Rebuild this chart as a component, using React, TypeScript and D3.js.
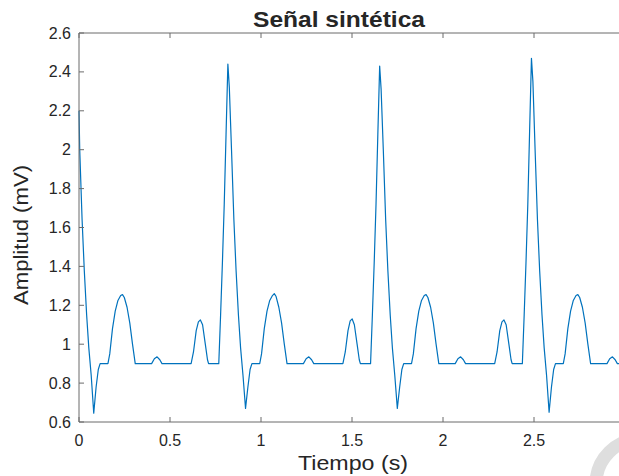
import React from "react";
import * as d3 from "d3";

const time: number[] = [
  0.000, 0.004, 0.017, 0.029, 0.042, 0.054, 0.067, 0.081, 0.094, 0.106, 0.116, 0.159, 0.169, 0.184, 0.199, 0.214, 0.229, 0.239, 0.249, 0.264, 0.279, 0.294, 0.309, 0.399, 0.414, 0.429, 0.444, 0.456, 0.616, 0.629, 0.644, 0.656, 0.667, 0.679, 0.694, 0.706, 0.712,
  0.768, 0.778, 0.788, 0.798, 0.808, 0.818, 0.826, 0.838, 0.851, 0.863, 0.876, 0.888, 0.901, 0.915, 0.928, 0.940, 0.950, 0.993, 1.003, 1.018, 1.033, 1.048, 1.063, 1.073, 1.083, 1.098, 1.113, 1.128, 1.143, 1.233, 1.248, 1.263, 1.278, 1.290, 1.450, 1.463, 1.478, 1.490, 1.501, 1.513, 1.528, 1.540, 1.546,
  1.602, 1.612, 1.622, 1.632, 1.642, 1.652, 1.660, 1.672, 1.685, 1.697, 1.710, 1.722, 1.735, 1.749, 1.762, 1.774, 1.784, 1.827, 1.837, 1.852, 1.867, 1.882, 1.897, 1.907, 1.917, 1.932, 1.947, 1.962, 1.977, 2.067, 2.082, 2.097, 2.112, 2.124, 2.284, 2.297, 2.312, 2.324, 2.335, 2.347, 2.362, 2.374, 2.380,
  2.436, 2.446, 2.456, 2.466, 2.476, 2.486, 2.494, 2.506, 2.519, 2.531, 2.544, 2.556, 2.569, 2.583, 2.596, 2.608, 2.618, 2.661, 2.671, 2.686, 2.701, 2.716, 2.731, 2.741, 2.751, 2.766, 2.781, 2.796, 2.811, 2.901, 2.916, 2.931, 2.946, 2.958, 3.000,
];

const amplitude: number[] = [
  2.20, 2.00, 1.64, 1.38, 1.15, 0.98, 0.84, 0.645, 0.78, 0.87, 0.90, 0.90, 0.95, 1.08, 1.17, 1.225, 1.25, 1.255, 1.24, 1.19, 1.11, 1.00, 0.90, 0.90, 0.925, 0.935, 0.92, 0.90, 0.90, 0.96, 1.07, 1.115, 1.125, 1.10, 1.00, 0.92, 0.90,
  0.90, 1.15, 1.42, 1.72, 2.08, 2.44, 2.32, 2.00, 1.64, 1.38, 1.15, 0.98, 0.84, 0.67, 0.78, 0.87, 0.90, 0.90, 0.95, 1.08, 1.17, 1.225, 1.25, 1.26, 1.245, 1.19, 1.11, 1.00, 0.90, 0.90, 0.925, 0.935, 0.92, 0.90, 0.90, 0.96, 1.07, 1.12, 1.13, 1.10, 1.00, 0.92, 0.90,
  0.90, 1.15, 1.42, 1.72, 2.08, 2.43, 2.31, 2.00, 1.64, 1.38, 1.15, 0.98, 0.84, 0.67, 0.78, 0.87, 0.90, 0.90, 0.95, 1.08, 1.17, 1.225, 1.25, 1.255, 1.24, 1.19, 1.11, 1.00, 0.90, 0.90, 0.925, 0.935, 0.92, 0.90, 0.90, 0.96, 1.07, 1.115, 1.125, 1.10, 1.00, 0.92, 0.90,
  0.90, 1.15, 1.42, 1.72, 2.10, 2.47, 2.35, 2.00, 1.64, 1.38, 1.15, 0.98, 0.84, 0.65, 0.78, 0.87, 0.90, 0.90, 0.95, 1.08, 1.17, 1.225, 1.25, 1.255, 1.24, 1.19, 1.11, 1.00, 0.90, 0.90, 0.925, 0.935, 0.92, 0.90, 0.90,
];

const xTicks: number[] = [0, 0.5, 1, 1.5, 2, 2.5];
const yTicks: number[] = [0.6, 0.8, 1, 1.2, 1.4, 1.6, 1.8, 2, 2.2, 2.4, 2.6];

const titleText = "Señal sintética";
const xLabelText = "Tiempo (s)";
const yLabelText = "Amplitud (mV)";

const W = 619;
const H = 476;
const left = 79;
const top = 33;
const bottom = 422;
const right = 625;

export default function App() {
  const x = d3.scaleLinear().domain([0, 3]).range([left, right]);
  const y = d3.scaleLinear().domain([0.6, 2.6]).range([bottom, top]);
  const pts = time.map((t, i) => [t, amplitude[i]] as [number, number]);
  const line = d3
    .line<[number, number]>()
    .x((d) => x(d[0]))
    .y((d) => y(d[1]));
  const axisColor = "#6b6b6b";
  const textColor = "#262626";
  const font = "'Liberation Sans', Arial, Helvetica, sans-serif";
  const tick = 5;
  return (
    <svg
      width={W}
      height={H}
      style={{ position: "absolute", left: 0, top: 0, background: "#fff" }}
      fontFamily={font}
    >
      <rect x={0} y={0} width={W} height={H} fill="#fff" />
      <circle cx={641} cy={484} r={45} fill="none" stroke="#dedede" strokeWidth={13} />
      <path d={line(pts) || ""} fill="none" stroke="#0072BD" strokeWidth={1.2} strokeLinejoin="round" />
      <line x1={left} x2={right} y1={bottom} y2={bottom} stroke={axisColor} strokeWidth={1} />
      <line x1={left} x2={right} y1={top} y2={top} stroke={axisColor} strokeWidth={1} />
      <line x1={left} x2={left} y1={top} y2={bottom} stroke={axisColor} strokeWidth={1} />
      {xTicks.map((t) => (
        <g key={"x" + t}>
          <line x1={x(t)} x2={x(t)} y1={bottom} y2={bottom - tick} stroke={axisColor} />
          <line x1={x(t)} x2={x(t)} y1={top} y2={top + tick} stroke={axisColor} />
          <text x={x(t)} y={446} textAnchor="middle" fontSize={16} fill={textColor}>
            {String(t)}
          </text>
        </g>
      ))}
      {yTicks.map((v) => (
        <g key={"y" + v}>
          <line x1={left} x2={left + tick} y1={y(v)} y2={y(v)} stroke={axisColor} />
          <text x={71} y={y(v) + 5.5} textAnchor="end" fontSize={16} fill={textColor}>
            {String(v)}
          </text>
        </g>
      ))}
      <text
        x={339}
        y={27}
        textAnchor="middle"
        fontSize={22}
        fontWeight="bold"
        fill={textColor}
        textLength={172}
        lengthAdjust="spacingAndGlyphs"
      >
        {titleText}
      </text>
      <text
        x={353}
        y={470}
        textAnchor="middle"
        fontSize={21}
        fill={textColor}
        textLength={110}
        lengthAdjust="spacingAndGlyphs"
      >
        {xLabelText}
      </text>
      <text
        transform={`translate(28,235) rotate(-90)`}
        textAnchor="middle"
        fontSize={21}
        fill={textColor}
        textLength={140}
        lengthAdjust="spacingAndGlyphs"
      >
        {yLabelText}
      </text>
    </svg>
  );
}
